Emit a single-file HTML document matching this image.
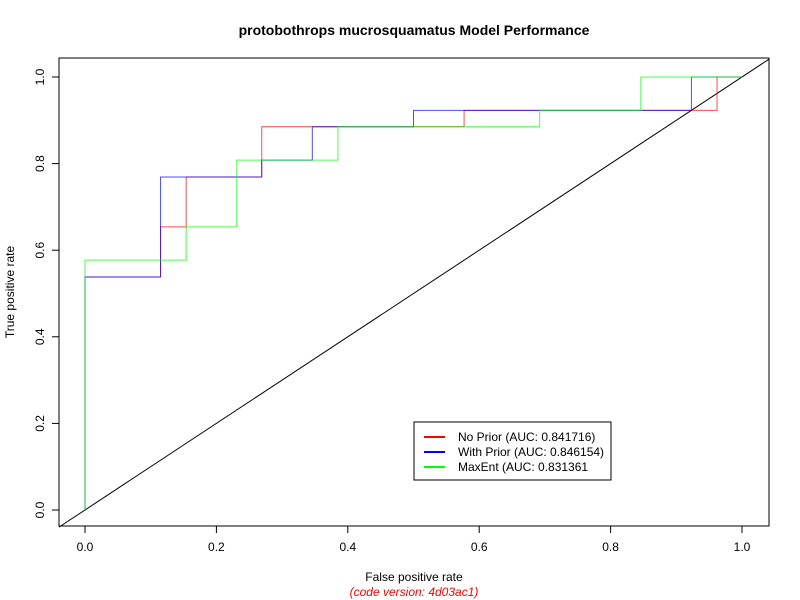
<!DOCTYPE html>
<html><head><meta charset="utf-8"><style>
body{margin:0;background:#fff}
svg{display:block;font-family:"Liberation Sans",sans-serif}
</style></head><body>
<svg id="c" width="800" height="600" xmlns="http://www.w3.org/2000/svg">
<rect width="800" height="600" fill="#fff"/>
<text x="414" y="35" text-anchor="middle" font-size="14" font-weight="bold">protobothrops mucrosquamatus Model Performance</text>
<rect x="59" y="58" width="710" height="468" fill="none" stroke="#000"/>
<g id="axes"></g>
<g id="series"></g>
<text x="414" y="581" text-anchor="middle" font-size="12">False positive rate</text>
<text x="414" y="596" text-anchor="middle" font-size="12" font-style="italic" fill="#ff0000">(code version: 4d03ac1)</text>
<text transform="translate(14,292) rotate(-90)" text-anchor="middle" font-size="12">True positive rate</text>
<g>
<rect x="414" y="422" width="197" height="58" fill="#fff" stroke="#000"/>
<line x1="424" x2="445" y1="437" y2="437" stroke="#ff0000" stroke-width="2"/>
<line x1="424" x2="445" y1="452" y2="452" stroke="#0000ff" stroke-width="2"/>
<line x1="424" x2="445" y1="467" y2="467" stroke="#00ff00" stroke-width="2"/>
<text x="458" y="441" font-size="12">No Prior (AUC: 0.841716)</text>
<text x="458" y="456" font-size="12">With Prior (AUC: 0.846154)</text>
<text x="458" y="471" font-size="12">MaxEnt (AUC: 0.831361</text>
</g>
</svg>
<script>
const xTicks=[0,0.2,0.4,0.6,0.8,1.0];
const yTicks=[0,0.2,0.4,0.6,0.8,1.0];
const noPriorFpr=[0,0,0.115,0.115,0.154,0.154,0.269,0.269,0.577,0.577,0.962,0.962,1];
const noPriorTpr=[0,0.538,0.538,0.654,0.654,0.769,0.769,0.885,0.885,0.923,0.923,1,1];
const withPriorFpr=[0,0,0.115,0.115,0.269,0.269,0.346,0.346,0.5,0.5,0.923,0.923,1];
const withPriorTpr=[0,0.538,0.538,0.769,0.769,0.808,0.808,0.885,0.885,0.923,0.923,1,1];
const maxentFpr=[0,0,0.154,0.154,0.231,0.231,0.385,0.385,0.692,0.692,0.846,0.846,1];
const maxentTpr=[0,0.577,0.577,0.654,0.654,0.808,0.808,0.885,0.885,0.923,0.923,1,1];
const NS='http://www.w3.org/2000/svg';
const X=v=>85+v*657, Y=v=>510-v*433;
function mk(t,a,p){const e=document.createElementNS(NS,t);for(const k in a)e.setAttribute(k,a[k]);p.appendChild(e);return e;}
const ax=document.getElementById('axes'), sg=document.getElementById('series');
mk('line',{x1:X(0),x2:X(1),y1:526,y2:526,stroke:'#000'},ax);
xTicks.forEach(v=>{mk('line',{x1:X(v),x2:X(v),y1:526,y2:533,stroke:'#000'},ax);
 const t=mk('text',{x:X(v),y:551,'text-anchor':'middle','font-size':12},ax);t.textContent=v.toFixed(1);
 
 });
mk('line',{x1:59,x2:59,y1:Y(0),y2:Y(1),stroke:'#000'},ax);
yTicks.forEach(v=>{mk('line',{x1:52,x2:59,y1:Y(v),y2:Y(v),stroke:'#000'},ax);
 const t=mk('text',{transform:`translate(44,${Y(v)}) rotate(-90)`,'text-anchor':'middle','font-size':12},ax);t.textContent=v.toFixed(1);
 
 });
// diagonal reference line extended across plot
const d=mk('line',{x1:59,y1:Y((59-85)/657),x2:769,y2:Y((769-85)/657),stroke:'#000'},sg);


function curve(fx,ty,col,name){const pts=fx.map((v,i)=>X(v)+','+Y(ty[i])).join(' ');
 const p=mk('polyline',{points:pts,fill:'none',stroke:col,'stroke-opacity':0.7,'stroke-width':1},sg);
 
 }
curve(noPriorFpr,noPriorTpr,'#ff0000','roc-no-prior');
curve(withPriorFpr,withPriorTpr,'#0000ff','roc-with-prior');
curve(maxentFpr,maxentTpr,'#00ff00','roc-maxent');
</script>
</body></html>
